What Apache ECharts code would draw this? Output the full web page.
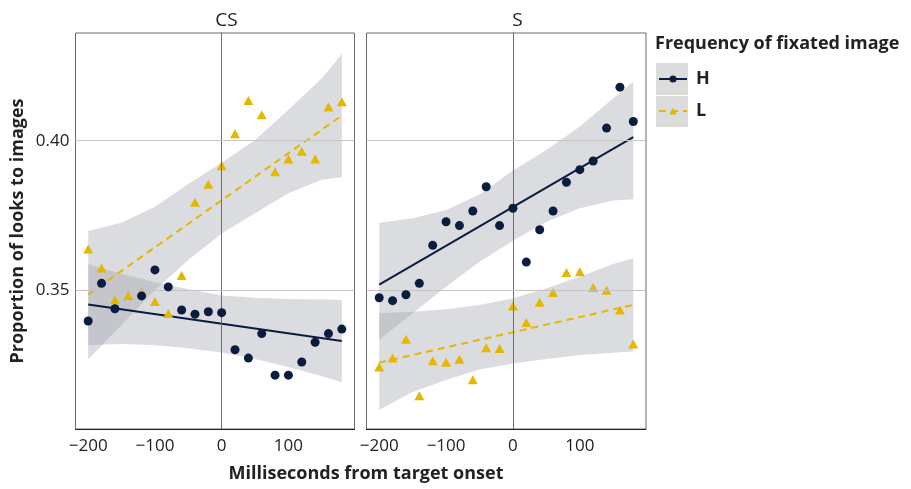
<!DOCTYPE html>
<html>
<head>
<meta charset="utf-8">
<script src="https://cdn.jsdelivr.net/npm/echarts@6/dist/echarts.min.js"></script>
<style>
  html,body{margin:0;padding:0;background:#fff;}
  #chart{width:911px;height:489px;}
</style>
</head>
<body>
<div id="chart"></div>
<script>
  // time bins (ms from target onset)
  var times = [-200,-180,-160,-140,-120,-100,-80,-60,-40,-20,0,20,40,60,80,100,120,140,160,180];
  // proportions; CS/H has no visible point at -140
  var csH = [0.3397,0.3523,0.3438,null,0.3481,0.3568,0.3511,0.3434,0.3420,0.3428,0.3425,0.3301,0.3273,0.3355,0.3216,0.3216,0.3260,0.3326,0.3355,0.3370];
  var csL = [0.3638,0.3574,0.3468,0.3482,0.3495,0.3462,0.3422,0.3549,0.3794,0.3854,0.3916,0.4023,0.4134,0.4087,0.3896,0.3939,0.3965,0.3939,0.4113,0.4130];
  var sH  = [0.3475,0.3465,0.3485,0.3523,0.3650,0.3729,0.3716,0.3765,0.3846,0.3716,0.3774,0.3594,0.3702,0.3765,0.3861,0.3903,0.3932,0.4042,0.4179,0.4064];
  var sL  = [0.3243,0.3273,0.3336,0.3147,0.3264,0.3259,0.3269,0.3201,0.3308,0.3305,0.3447,0.3392,0.3460,0.3492,0.3559,0.3562,0.3509,0.3500,0.3434,0.3320];

  // fitted lines (ends) and confidence bands
  var fitX = [-200, 180];
  var csHFit = [0.3452, 0.3330];
  var csLFit = [0.3486, 0.4084];
  var sHFit  = [0.3519, 0.4012];
  var sLFit  = [0.3258, 0.3451];

  var bandX  = [-200,-150,-100,-50,0,50,100,150,180];
  var csHUp  = [0.3587,0.3555,0.3527,0.3503,0.3482,0.3475,0.3471,0.3469,0.3467];
  var csHLo  = [0.3317,0.3320,0.3316,0.3306,0.3292,0.3270,0.3243,0.3212,0.3192];
  var csLUp  = [0.3698,0.3726,0.3779,0.3855,0.3926,0.4002,0.4103,0.4209,0.4290];
  var csLLo  = [0.3269,0.3384,0.3501,0.3601,0.3690,0.3757,0.3824,0.3869,0.3878];
  var sHUp   = [0.3726,0.3741,0.3768,0.3820,0.3900,0.3969,0.4047,0.4142,0.4197];
  var sHLo   = [0.3334,0.3423,0.3512,0.3595,0.3665,0.3729,0.3774,0.3800,0.3804];
  var sLUp   = [0.3423,0.3428,0.3436,0.3451,0.3473,0.3507,0.3545,0.3588,0.3607];
  var sLLo   = [0.3100,0.3160,0.3200,0.3235,0.3255,0.3270,0.3283,0.3291,0.3295];

  var xTicks = [-200,-100,0,100];
  var yTicks = [0.35,0.40];

  var navy = '#0b1c40';
  var gold = '#e4b700';
  var bandFill = 'rgba(160,164,170,0.38)';
  var font = '"Open Sans", "Noto Sans", sans-serif';

  function pairs(xs, ys) {
    var out = [];
    for (var i = 0; i < xs.length; i++) {
      if (ys[i] !== null) out.push([xs[i], ys[i]]);
    }
    return out;
  }

  function bandSeries(idx, up, lo) {
    return {
      type: 'custom',
      xAxisIndex: idx, yAxisIndex: idx,
      silent: true, z: 1,
      data: bandX.map(function (x, i) { return [x, lo[i], up[i]]; }),
      encode: {x: 0, y: [1, 2]},
      renderItem: function (params, api) {
        if (params.dataIndex !== 0) return;
        var pts = [];
        for (var i = 0; i < bandX.length; i++) pts.push(api.coord([bandX[i], up[i]]));
        for (var j = bandX.length - 1; j >= 0; j--) pts.push(api.coord([bandX[j], lo[j]]));
        return {type: 'polygon', shape: {points: pts}, style: {fill: bandFill}};
      }
    };
  }

  function refLines(idx) {
    return {
      type: 'line', xAxisIndex: idx, yAxisIndex: idx, data: [], silent: true, z: 0,
      markLine: {
        silent: true, symbol: 'none', label: {show: false}, animation: false,
        data: [
          {xAxis: 0, lineStyle: {color: '#6e6e6e', width: 1, type: 'solid'}},
          {yAxis: yTicks[0], lineStyle: {color: '#c4c4c4', width: 1, type: 'solid'}},
          {yAxis: yTicks[1], lineStyle: {color: '#c4c4c4', width: 1, type: 'solid'}}
        ]
      }
    };
  }

  function fitLine(idx, name, ys, color, dash, sym) {
    return {
      name: name, type: 'line', xAxisIndex: idx, yAxisIndex: idx, z: 3,
      data: pairs(fitX, ys),
      showSymbol: false, symbol: sym, symbolSize: 9,
      itemStyle: {color: color},
      lineStyle: {color: color, width: 2, type: dash ? [7, 5] : 'solid'}
    };
  }

  function points(idx, name, ys, color, sym, size, z) {
    return {
      name: name, type: 'scatter', xAxisIndex: idx, yAxisIndex: idx, z: z,
      data: pairs(times, ys),
      symbol: sym, symbolSize: size,
      itemStyle: {color: color, opacity: 1}
    };
  }

  function xAxisFor(idx) {
    return {
      type: 'value', gridIndex: idx, min: -219, max: 199,
      axisLine: {show: true, lineStyle: {color: '#222', width: 1}},
      axisTick: {show: false},
      splitLine: {show: false},
      axisLabel: {
        customValues: xTicks, margin: 9, color: '#222', fontSize: 17, fontFamily: font,
        formatter: function (v) { return String(v).replace('-', '\u2212'); }
      }
    };
  }

  function yAxisFor(idx) {
    var ax = {
      type: 'value', gridIndex: idx, min: 0.3036, max: 0.4360,
      axisLine: {show: true, lineStyle: {color: '#333', width: 1}},
      axisTick: {show: false},
      splitLine: {show: false},
      axisLabel: {
        show: idx === 0, customValues: yTicks, margin: 6, color: '#222', fontSize: 17, fontFamily: font,
        formatter: function (v) { return v.toFixed(2); }
      }
    };
    if (idx === 0) {
      ax.name = 'Proportion of looks to images';
      ax.nameLocation = 'middle';
      ax.nameGap = 49;
      ax.nameTextStyle = {fontSize: 18, fontWeight: 'bold', color: '#222', fontFamily: font};
    }
    return ax;
  }

  var chart = echarts.init(document.getElementById('chart'));
  var option = {
    animation: false,
    backgroundColor: '#fff',
    textStyle: {fontFamily: font},
    title: [
      {text: 'CS', left: 221.5, top: 6, textAlign: 'center', textStyle: {fontSize: 19, fontWeight: 'normal', color: '#222', fontFamily: font}},
      {text: 'S', left: 512.5, top: 6, textAlign: 'center', textStyle: {fontSize: 19, fontWeight: 'normal', color: '#222', fontFamily: font}},
      {text: 'Milliseconds from target onset', left: 361, top: 460, textAlign: 'center', textStyle: {fontSize: 18, fontWeight: 'bold', color: '#222', fontFamily: font}},
      {text: 'Frequency of fixated image', left: 650, top: 30, textStyle: {fontSize: 18, fontWeight: 'bold', color: '#222', fontFamily: font}}
    ],
    graphic: [
      {type: 'rect', left: 656, top: 63, shape: {width: 32, height: 32}, style: {fill: '#dcdcdc'}, silent: true},
      {type: 'rect', left: 656, top: 96, shape: {width: 32, height: 31}, style: {fill: '#dcdcdc'}, silent: true}
    ],
    legend: {
      orient: 'vertical', left: 658, top: 69, padding: 0, itemWidth: 28, itemHeight: 9, itemGap: 12,
      data: ['H', 'L'],
      selectedMode: false,
      textStyle: {fontSize: 18, fontWeight: 'bold', color: '#222', lineHeight: 20, fontFamily: font, padding: [0, 0, 0, 4]}
    },
    grid: [
      {left: 75.5, top: 33, width: 279, height: 396, show: true, borderColor: '#6a6a6a', borderWidth: 1, backgroundColor: '#fff'},
      {left: 366.5, top: 33, width: 279.5, height: 396, show: true, borderColor: '#6a6a6a', borderWidth: 1, backgroundColor: '#fff'}
    ],
    xAxis: [xAxisFor(0), xAxisFor(1)],
    yAxis: [yAxisFor(0), yAxisFor(1)],
    series: [
      fitLine(0, 'H', csHFit, navy, false, 'circle'),
      fitLine(0, 'L', csLFit, gold, true, 'triangle'),
      fitLine(1, 'H', sHFit, navy, false, 'circle'),
      fitLine(1, 'L', sLFit, gold, true, 'triangle'),
      refLines(0),
      refLines(1),
      bandSeries(0, csHUp, csHLo),
      bandSeries(0, csLUp, csLLo),
      bandSeries(1, sHUp, sHLo),
      bandSeries(1, sLUp, sLLo),
      points(0, 'L', csL, gold, 'triangle', [10, 9], 4),
      points(0, 'H', csH, navy, 'circle', 9, 5),
      points(1, 'L', sL, gold, 'triangle', [10, 9], 4),
      points(1, 'H', sH, navy, 'circle', 9, 5)
    ]
  };
  chart.setOption(option);
</script>
</body>
</html>
